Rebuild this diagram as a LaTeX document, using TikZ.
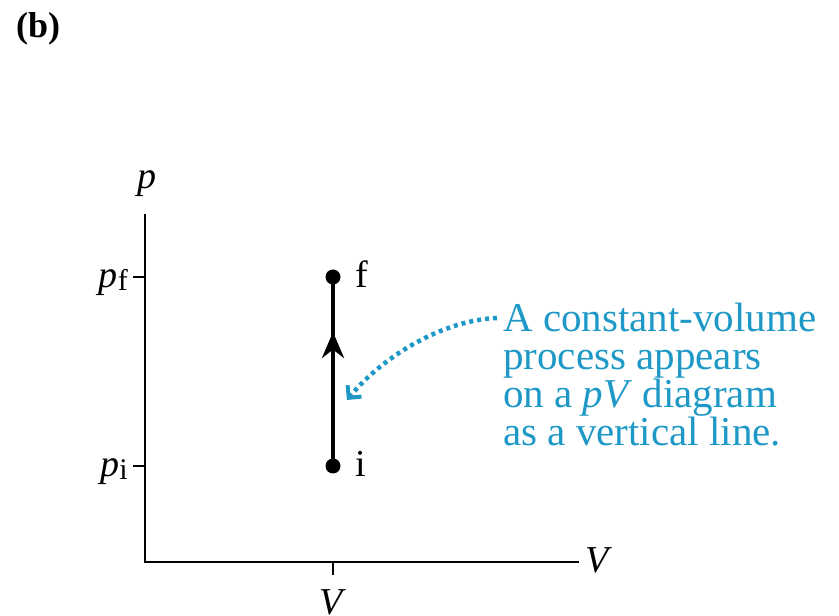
\documentclass[tikz,border=0pt]{standalone}
\usepackage{fontspec}
\setmainfont{Liberation Serif}
\usetikzlibrary{arrows.meta}
\definecolor{note}{HTML}{1E98C6}
\tikzset{
  axis/.style={line width=2.6pt, line cap=rect},
  tick/.style={line width=2.6pt},
  proc/.style={line width=4pt},
  dot/.style={circle, fill=black, inner sep=0pt, minimum size=15pt},
  lab/.style={font=\fontsize{38}{38}\selectfont, inner sep=0pt},
  notetext/.style={font=\fontsize{41}{38}\selectfont, text=note, align=left, inner sep=0pt},
  callout/.style={note, line width=4.5pt, dash pattern=on 4pt off 4pt, -{Straight Barb[length=9pt,width=18pt,line width=4pt]}}
}
\newcommand{\subtxt}[1]{\raisebox{-3pt}{\fontsize{30}{30}\selectfont #1}}
\begin{document}
\begin{tikzpicture}[x=1pt,y=1pt]
\useasboundingbox (0,0) rectangle (839,616);
% axes
\coordinate (O) at (145,54);
\coordinate (ytop) at (145,401);
\coordinate (xend) at (578,54);
\draw[axis] (ytop) -- (O) -- (xend);
% ticks
\coordinate (tf) at (133,339);
\coordinate (tfa) at (145,339);
\coordinate (ti) at (133,150);
\coordinate (tia) at (145,150);
\coordinate (tv) at (333,54);
\coordinate (tvb) at (333,41);
\draw[tick] (tf) -- (tfa);
\draw[tick] (ti) -- (tia);
\draw[tick] (tv) -- (tvb);
% labels
\node[lab, anchor=base] (plab) at (147,427) {\textit{p}};
\node[lab, anchor=base west] (vlab) at (585,43) {\textit{V}};
\node[lab, anchor=base] (vtick) at (333,1) {\textit{V}};
\node[lab, anchor=base east] (pf) at (128,328) {\textit{p}\subtxt{f}};
\node[lab, anchor=base east] (pi) at (128,139) {\textit{p}\subtxt{i}};
\node[font=\bfseries\fontsize{36}{36}\selectfont, anchor=base west, inner sep=0pt] (b) at (16,578) {(b)};
% process
\node[dot] (i) at (333,150) {};
\node[dot] (f) at (333,339) {};
\coordinate (mid) at (333,284);
\draw[proc] (i.center) -- (f.center);
\draw[proc, -{Stealth[length=26pt,width=22pt]}] (i.center) -- (mid);
\node[lab, anchor=base west] (flab) at (355,328) {f};
\node[lab, anchor=base west] (ilab) at (355,139) {i};
% note
\node[notetext, anchor=north west] (note) at (503,313) {A constant-volume\\process appears\\on a \textit{pV} diagram\\as a vertical line.};
\coordinate (cstart) at (497,298);
\coordinate (cend) at (347,216);
\draw[callout] (cstart) .. controls (445,296) and (385,262) .. (cend);
\end{tikzpicture}
\end{document}
